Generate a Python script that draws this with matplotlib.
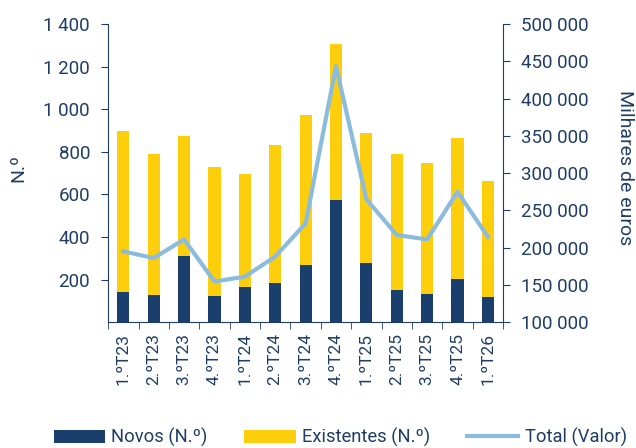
import matplotlib.pyplot as plt
import numpy as np

trimestres = ['1.ºT23', '2.ºT23', '3.ºT23', '4.ºT23', '1.ºT24', '2.ºT24', '3.ºT24',
              '4.ºT24', '1.ºT25', '2.ºT25', '3.ºT25', '4.ºT25', '1.ºT26']
novos = [143, 127, 313, 124, 164, 183, 268, 573, 276, 149, 133, 204, 119]
totais_n = [897, 792, 874, 727, 694, 833, 974, 1309, 891, 789, 750, 863, 662]
existentes = [t - n for t, n in zip(totais_n, novos)]
total_valor = [195000, 186000, 211000, 154500, 161000, 188000, 232500,
               443500, 265000, 217000, 211000, 275000, 214500]

azul = '#1a3f6c'
amarelo = '#fdce0b'
azul_claro = '#8bbbdd'
texto = '#1f3d66'

plt.rcParams['font.family'] = ['Roboto', 'DejaVu Sans']
plt.rcParams['font.size'] = 13

fig, ax = plt.subplots(figsize=(6.36, 4.48), dpi=100)
fig.subplots_adjust(left=0.17, right=0.791, top=0.946, bottom=0.281)

x = np.arange(len(trimestres))
ax.bar(x, novos, width=0.4, color=azul, label='Novos (N.º)', zorder=2)
ax.bar(x, existentes, width=0.4, bottom=novos, color=amarelo, label='Existentes (N.º)', zorder=2)

fmt = plt.FuncFormatter(lambda v, p: '{:,}'.format(int(v)).replace(',', ' '))

ax.set_xlim(-0.5, len(trimestres) - 0.5)
ax.set_ylim(0, 1400)
ax.set_yticks(range(200, 1401, 200))
ax.yaxis.set_major_formatter(fmt)
ax.set_xticks(x)
ax.set_xticklabels(trimestres, rotation=90, color=texto, fontsize=12.5)
ax.set_xticks(np.arange(-0.5, len(trimestres)), minor=True)
ax.tick_params(axis='x', which='major', length=0, pad=8)
ax.tick_params(axis='x', which='minor', length=5, color=texto)
ax.tick_params(axis='y', colors=texto, length=5, pad=8, labelsize=13.5)

ax2 = ax.twinx()
ax2.plot(x, total_valor, color=azul_claro, lw=3, label='Total (Valor)', zorder=3)
ax2.set_ylim(100000, 500000)
ax2.set_yticks(range(100000, 500001, 50000))
ax2.yaxis.set_major_formatter(fmt)
ax2.tick_params(axis='y', colors=texto, length=5, pad=8, labelsize=13.5)

fig.text(18 / 636, 1 - 168 / 448, 'N.º', rotation=90, ha='center', va='center',
         color=texto, fontsize=14)
fig.text(625 / 636, 1 - 168 / 448, 'Milhares de euros', rotation=270, ha='center',
         va='center', color=texto, fontsize=14)

for a in (ax, ax2):
    a.spines['top'].set_visible(False)
    for s in ('left', 'right', 'bottom'):
        a.spines[s].set_color(texto)
ax.spines['right'].set_visible(False)
ax2.spines['left'].set_visible(False)
ax2.spines['bottom'].set_visible(False)

h1, l1 = ax.get_legend_handles_labels()
h2, l2 = ax2.get_legend_handles_labels()
leg = fig.legend(h1 + h2, l1 + l2, loc='lower center', ncol=3, frameon=False,
                 bbox_to_anchor=(0.535, -0.035), handlelength=2.8, handletextpad=0.35,
                 columnspacing=2.0, fontsize=13.2)
for t in leg.get_texts():
    t.set_color(texto)

fig.savefig('out.png', dpi=100)
